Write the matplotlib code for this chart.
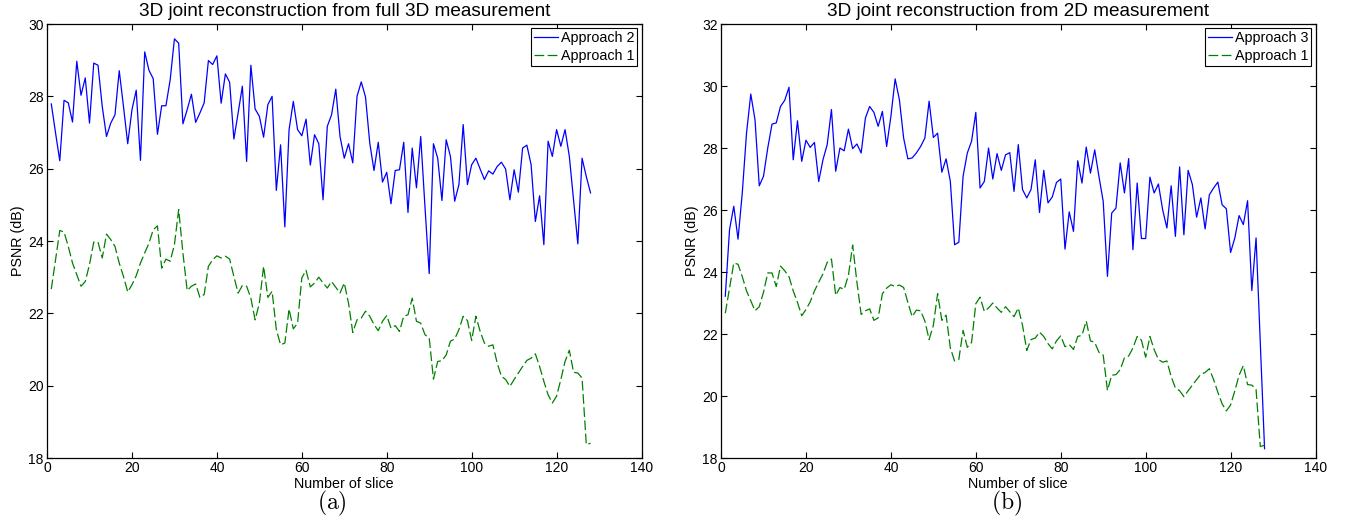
import matplotlib
matplotlib.use("Agg")
import matplotlib.pyplot as plt
import numpy as np

plt.rcParams['font.family'] = ['Liberation Sans', 'DejaVu Sans']
plt.rcParams['mathtext.fontset'] = 'cm'
plt.rcParams['lines.scale_dashes'] = False

slices = np.arange(1, 129)

# PSNR per slice
approach1 = [
    22.67, 23.48, 24.29, 24.25, 23.85, 23.39, 23.07, 22.75, 22.88, 23.35,
    23.97, 23.97, 23.53, 24.19, 24.04, 23.85, 23.39, 23.02, 22.59, 22.79,
    23.04, 23.39, 23.67, 23.94, 24.31, 24.42, 23.25, 23.50, 23.44, 23.90,
    24.87, 23.67, 22.63, 22.75, 22.81, 22.44, 22.52, 23.30, 23.48, 23.59,
    23.53, 23.58, 23.50, 23.02, 22.56, 22.77, 22.75, 22.42, 21.82, 22.28,
    23.30, 22.44, 22.61, 21.55, 21.13, 21.18, 22.12, 21.57, 21.73, 22.98,
    23.19, 22.73, 22.84, 23.00, 22.84, 22.70, 22.88, 22.72, 22.56, 22.84,
    22.28, 21.47, 21.82, 21.87, 22.06, 21.92, 21.69, 21.52, 21.78, 21.94,
    21.59, 21.66, 21.50, 21.92, 21.96, 22.42, 21.78, 21.73, 21.41, 21.32,
    20.18, 20.67, 20.69, 20.85, 21.23, 21.29, 21.55, 21.92, 21.80, 21.25,
    21.92, 21.50, 21.18, 21.09, 21.13, 20.63, 20.26, 20.17, 19.98, 20.17,
    20.35, 20.53, 20.70, 20.76, 20.88, 20.53, 20.12, 19.75, 19.52, 19.71,
    20.17, 20.67, 20.98, 20.37, 20.35, 20.21, 18.37, 18.41,
]

approach2 = [
    27.79, 26.99, 26.22, 27.89, 27.82, 27.29, 28.97, 28.03, 28.51, 27.26,
    28.92, 28.86, 27.72, 26.89, 27.26, 27.49, 28.71, 27.72, 26.69, 27.63,
    28.17, 26.23, 29.23, 28.72, 28.49, 26.95, 27.74, 27.74, 28.46, 29.59,
    29.47, 27.24, 27.63, 28.06, 27.28, 27.54, 27.82, 28.99, 28.88, 29.12,
    27.81, 28.62, 28.39, 26.82, 27.54, 28.28, 26.20, 28.86, 27.65, 27.45,
    26.87, 27.77, 28.00, 25.40, 26.66, 24.39, 27.08, 27.86, 27.08, 26.91,
    27.37, 26.10, 26.94, 26.69, 25.14, 27.17, 27.49, 28.20, 26.89, 26.29,
    26.69, 26.16, 28.00, 28.40, 27.98, 26.71, 25.95, 26.73, 25.63, 25.90,
    25.03, 25.95, 25.97, 26.73, 24.79, 26.57, 25.47, 26.89, 24.95, 23.10,
    26.69, 26.29, 25.12, 26.80, 26.34, 25.10, 25.56, 27.22, 25.56, 26.11,
    26.29, 25.99, 25.70, 25.94, 25.85, 26.06, 26.18, 25.99, 25.14, 25.97,
    25.35, 26.57, 26.65, 26.11, 24.54, 25.25, 23.90, 26.76, 26.34, 27.08,
    26.62, 27.08, 26.34, 25.14, 23.92, 26.29, 25.78, 25.33,
]

approach3 = [
    23.22, 25.37, 26.12, 25.06, 26.55, 28.48, 29.74, 28.91, 26.78, 27.09,
    28.00, 28.77, 28.81, 29.34, 29.54, 29.96, 27.62, 28.88, 27.57, 28.25,
    28.02, 28.18, 26.92, 27.62, 28.11, 29.24, 27.25, 28.00, 27.91, 28.61,
    27.98, 28.13, 27.84, 28.97, 29.34, 29.15, 28.70, 29.18, 28.05, 29.02,
    30.23, 29.56, 28.32, 27.65, 27.68, 27.84, 28.05, 28.32, 29.51, 28.34,
    28.48, 27.22, 27.65, 26.92, 24.88, 24.96, 27.09, 27.84, 28.22, 29.15,
    26.71, 26.92, 28.00, 27.00, 27.82, 27.28, 27.78, 27.85, 26.60, 28.11,
    26.66, 26.39, 26.66, 27.62, 25.92, 27.28, 26.23, 26.42, 26.89, 27.00,
    24.74, 25.94, 25.31, 27.59, 26.87, 28.03, 27.19, 27.94, 27.08, 26.28,
    23.86, 25.90, 26.06, 27.52, 26.55, 27.66, 24.72, 26.87, 25.08, 25.08,
    27.06, 26.55, 26.84, 26.01, 25.42, 26.78, 25.15, 27.39, 25.20, 27.28,
    26.82, 25.77, 26.39, 25.39, 26.49, 26.71, 26.90, 26.17, 26.04, 24.63,
    25.10, 25.82, 25.53, 26.30, 23.40, 25.10, 21.70, 18.30,
]

panels = [
    ("3D joint reconstruction from full 3D measurement", approach2, "Approach 2", 30, "(a)"),
    ("3D joint reconstruction from 2D measurement", approach3, "Approach 3", 32, "(b)"),
]

fig = plt.figure(figsize=(13.48, 5.29), dpi=100)
lefts = [0.0349, 0.5349]

for left, (title, new, new_label, ymax, tag) in zip(lefts, panels):
    ax = fig.add_axes([left, 0.1342, 0.4410, 0.8204])
    ax.plot(slices, new, color=(0, 0, 1), linewidth=0.9, label=new_label)
    ax.plot(slices, approach1, color=(0, 0.5, 0), linewidth=0.9,
            linestyle=(0, (7, 2.5)), label="Approach 1")
    ax.set_xlim(0, 140)
    ax.set_ylim(18, ymax)
    ax.set_xticks(np.arange(0, 141, 20))
    ax.set_yticks(np.arange(18, ymax + 1, 2))
    ax.tick_params(direction='in', top=True, right=True, length=4,
                   labelsize=10, pad=2.5)
    for s in ax.spines.values():
        s.set_linewidth(0.9)
    ax.set_title(title, fontsize=13.7, pad=6)
    ax.set_xlabel("Number of slice", fontsize=10.3, labelpad=1)
    ax.set_ylabel("PSNR (dB)", fontsize=10.3, labelpad=2)
    leg = ax.legend(loc='upper right', fontsize=10.3, fancybox=False,
                    edgecolor='black', framealpha=1, handlelength=1.7,
                    borderaxespad=0.3, borderpad=0.2, labelspacing=0.25,
                    handletextpad=0.2)
    leg.get_frame().set_linewidth(0.8)
    ax.text(0.48, -0.104, r"$\mathrm{" + tag + "}$", transform=ax.transAxes,
            ha='center', va='center', fontsize=17)

fig.savefig("out.png", dpi=100)
